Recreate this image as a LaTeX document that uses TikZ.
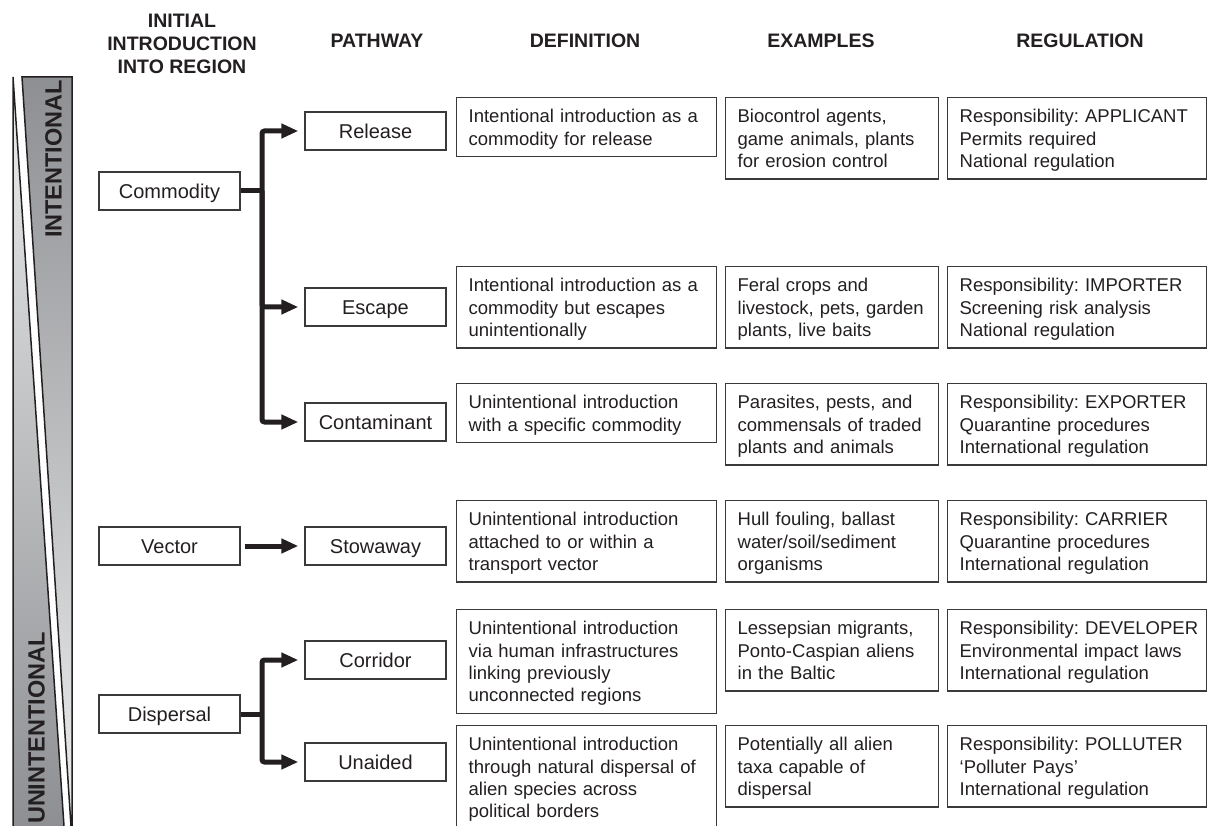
\documentclass[tikz,border=0pt]{standalone}
\usepackage{fontspec}
\setmainfont{Liberation Sans}
\usepackage{xcolor}
\usetikzlibrary{arrows.meta}
\frenchspacing
\definecolor{ink}{HTML}{231F20}
\definecolor{frame}{HTML}{3A3A3A}
\definecolor{bardark}{HTML}{8E8F92}
\definecolor{barlight}{HTML}{ECEDEE}
\newcommand{\cellstrut}{\rule[-4.4pt]{0pt}{22.4pt}}
\tikzset{
  cell/.style={draw=frame, line width=1.3pt, anchor=north west, align=left,
    inner xsep=12pt, inner ysep=7.1pt, font=\fontsize{18.5}{22.4}\selectfont, text=ink},
  defcell/.style={cell, text width=236pt},
  excell/.style={cell, text width=189pt},
  regcell/.style={cell, text width=235pt},
  pathbox/.style={draw=frame, line width=1.3pt, minimum width=141pt, minimum height=38pt,
    inner sep=0pt, text height=18pt, text depth=3.6pt, font=\fontsize{20}{24}\selectfont, text=ink},
  head/.style={font=\fontsize{19.5}{23}\selectfont\bfseries, text=ink, align=center},
  side/.style={font=\fontsize{23.5}{28}\selectfont\bfseries, text=ink, rotate=90, inner sep=0pt},
  flow/.style={line width=5pt, draw=ink, rounded corners=2.5pt, shorten >=6pt,
    -{Triangle[length=17pt,width=14pt]}},
  stub/.style={line width=5pt, draw=ink}
}
\begin{document}
\begin{tikzpicture}[x=1pt,y=-1pt]
\useasboundingbox (0,0) rectangle (1208,826);

% side bar
\shade[top color=barlight, bottom color=bardark] (13,77) -- (64,826) -- (13,826) -- cycle;
\shade[top color=bardark, bottom color=barlight] (22,77) -- (72,77) -- (72,826) -- (71,826) -- cycle;
\draw[line width=1.5pt, draw=ink] (13,826) -- (13,77) -- (64,826);
\draw[line width=1.5pt, draw=ink] (71,826) -- (22,77) -- (72,77) -- (72,826);
\node[side] (intl) at (53.5,159) {INTENTIONAL};
\node[side] (unintl) at (36.5,728) {UNINTENTIONAL};

% headers
\node[head] (hinit) at (182,44) {INITIAL\\INTRODUCTION\\INTO REGION};
\node[head] (hpath) at (377,41) {PATHWAY};
\node[head] (hdef) at (585,41) {DEFINITION};
\node[head] (hex) at (821,41) {EXAMPLES};
\node[head] (hreg) at (1080,41) {REGULATION};

% introduction
\node[pathbox] (comm) at (169.5,191) {Commodity};
\node[pathbox] (vec) at (169.5,546) {Vector};
\node[pathbox] (disp) at (169.5,714) {Dispersal};

% pathways
\node[pathbox] (rel) at (375.5,131) {Release};
\node[pathbox] (esc) at (375.5,307) {Escape};
\node[pathbox] (cont) at (375.5,422) {Contaminant};
\node[pathbox] (stow) at (375.5,546) {Stowaway};
\node[pathbox] (corr) at (375.5,660) {Corridor};
\node[pathbox] (unaid) at (375.5,762) {Unaided};

\coordinate (cj) at (262,191);
\coordinate (dj) at (262,714);
\draw[stub] (comm.east) -- (cj);
\draw[flow] (cj) |- (rel.west);
\draw[flow] (cj) |- (esc.west);
\draw[flow] (cj) |- (cont.west);
\draw[flow, shorten <=4pt] (vec.east) -- (stow.west);
\draw[stub] (disp.east) -- (dj);
\draw[flow] (dj) |- (corr.west);
\draw[flow] (dj) |- (unaid.west);

% definitions
\node[defcell] (d1) at (456,97) {\cellstrut Intentional introduction as a\\commodity for release\cellstrut};
\node[defcell] (d2) at (456,266) {\cellstrut Intentional introduction as a\\commodity but escapes\\unintentionally\cellstrut};
\node[defcell] (d3) at (456,383) {\cellstrut Unintentional introduction\\with a specific commodity\cellstrut};
\node[defcell] (d4) at (456,500) {\cellstrut Unintentional introduction\\attached to or within a\\transport vector\cellstrut};
\node[defcell] (d5) at (456,609) {\cellstrut Unintentional introduction\\via human infrastructures\\linking previously\\unconnected regions\cellstrut};
\node[defcell] (d6) at (456,725) {\cellstrut Unintentional introduction\\through natural dispersal of\\alien species across\\political borders\cellstrut};

% examples
\node[excell] (e1) at (725,97) {\cellstrut Biocontrol agents,\\game animals, plants\\for erosion control\cellstrut};
\node[excell] (e2) at (725,266) {\cellstrut Feral crops and\\livestock, pets, garden\\plants, live baits\cellstrut};
\node[excell] (e3) at (725,383) {\cellstrut Parasites, pests, and\\commensals of traded\\plants and animals\cellstrut};
\node[excell] (e4) at (725,500) {\cellstrut Hull fouling, ballast\\water/soil/sediment\\organisms\cellstrut};
\node[excell] (e5) at (725,609) {\cellstrut Lessepsian migrants,\\Ponto-Caspian aliens\\in the Baltic\cellstrut};
\node[excell] (e6) at (725,725) {\cellstrut Potentially all alien\\taxa capable of\\dispersal\cellstrut};

% regulation
\node[regcell] (r1) at (947,97) {\cellstrut\mbox{Responsibility: APPLICANT}\\Permits required\\National regulation\cellstrut};
\node[regcell] (r2) at (947,266) {\cellstrut\mbox{Responsibility: IMPORTER}\\Screening risk analysis\\National regulation\cellstrut};
\node[regcell] (r3) at (947,383) {\cellstrut\mbox{Responsibility: EXPORTER}\\Quarantine procedures\\International regulation\cellstrut};
\node[regcell] (r4) at (947,500) {\cellstrut\mbox{Responsibility: CARRIER}\\Quarantine procedures\\International regulation\cellstrut};
\node[regcell] (r5) at (947,609) {\cellstrut\mbox{Responsibility: DEVELOPER}\\Environmental impact laws\\International regulation\cellstrut};
\node[regcell] (r6) at (947,725) {\cellstrut\mbox{Responsibility: POLLUTER}\\`Polluter Pays'\\International regulation\cellstrut};
\end{tikzpicture}
\end{document}
